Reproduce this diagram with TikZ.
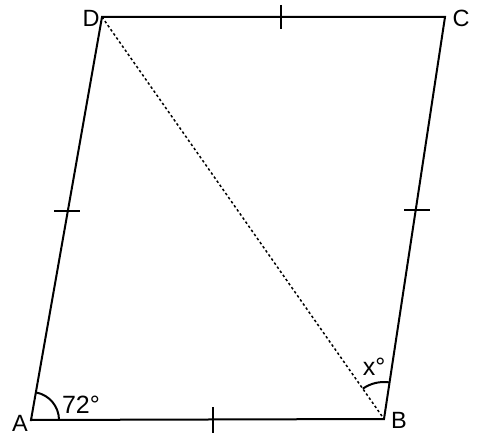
\documentclass[tikz,border=0pt]{standalone}
\usepackage{fontspec}
\setmainfont{Liberation Sans}
\begin{document}
\begin{tikzpicture}[x=1pt,y=-1pt,
  side/.style={line width=2pt},
  tick/.style={line width=2pt},
  diag/.style={line width=1.5pt, dash pattern=on 2.5pt off 2.5pt},
  lbl/.style={font=\fontsize{23.5}{27}\selectfont, inner sep=0pt},
  anglbl/.style={font=\fontsize{25}{29}\selectfont, inner sep=0pt}]
\useasboundingbox (0,0) rectangle (482,441);
\coordinate (A) at (31,420);
\coordinate (B) at (384,419);
\coordinate (C) at (445,17);
\coordinate (D) at (102,17);
\draw[side, line join=miter] (A) -- (B) -- (C) -- (D) -- cycle;
\draw[diag] (D) -- (B);
% ticks
\coordinate (t1a) at (281,5); \coordinate (t1b) at (281,29);
\coordinate (t2a) at (54,211); \coordinate (t2b) at (80,211);
\coordinate (t3a) at (404,210); \coordinate (t3b) at (430,210);
\coordinate (t4a) at (213,407); \coordinate (t4b) at (213,433);
\draw[tick] (t1a) -- (t1b);
\draw[tick] (t2a) -- (t2b);
\draw[tick] (t3a) -- (t3b);
\draw[tick] (t4a) -- (t4b);
% angle arcs
\draw[side] ([shift={(28,0)}]A) arc[start angle=0, end angle=-80.1, radius=28];
\draw[side] ([shift={(-81.4:37)}]B) arc[start angle=-81.4, end angle=-125, radius=37];
% labels
\node[lbl] (lA) at (20,423) {A};
\node[lbl] (lB) at (399,420) {B};
\node[lbl] (lC) at (461,18) {C};
\node[lbl] (lD) at (91,18) {D};
\node[anglbl] (l72) at (81,405) {72°};
\node[anglbl] (lx) at (374,367) {x°};
\end{tikzpicture}
\end{document}
